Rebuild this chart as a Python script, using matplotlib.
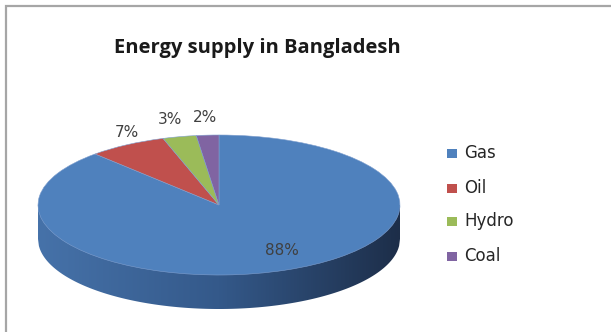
import numpy as np
import matplotlib
matplotlib.use('Agg')
from matplotlib import pyplot as plt
from matplotlib.colors import LinearSegmentedColormap
from matplotlib.patches import Rectangle

labels = ['Gas', 'Oil', 'Hydro', 'Coal']
values = [88, 7, 3, 2]
colors = ['#4F81BD', '#C0504D', '#9BBB59', '#8064A2']
title = 'Energy supply in Bangladesh'

plt.rcParams['font.family'] = ['DejaVu Sans']

fig = plt.figure(figsize=(6.11, 3.32), dpi=100)
W, H = 611, 332

# pie axes: 181 px per unit in x, 70 px per unit in y, centre at (219, 205)
cx, cy, a, b = 219, 205, 181, 70
xl, yl_lo, yl_hi = 1.2, -1.7, 1.5
ax = fig.add_axes([(cx - xl * a) / W, (H - (cy - yl_lo * b)) / H,
                   2 * xl * a / W, (yl_hi - yl_lo) * b / H])

depth = 34 / b

# side of the cylinder with a left-to-right shading
xs = np.linspace(-1, 1, 400)
side = ax.fill_between(xs, 0, -np.sqrt(1 - xs ** 2) - depth, color='none', lw=0)
cmap = LinearSegmentedColormap.from_list('side', ['#4672A9', '#34598A', '#1D2E49'])
grad = ax.imshow(np.linspace(0, 1, 256).reshape(1, -1), cmap=cmap, aspect='auto',
                 extent=(-1, 1, -1 - depth, 0), zorder=1)
grad.set_clip_path(side.get_paths()[0], transform=ax.transData)

wedges, texts, autotexts = ax.pie(values, colors=colors, startangle=90, counterclock=False,
                                  autopct='%.0f%%', pctdistance=0.76,
                                  wedgeprops=dict(linewidth=0.4, edgecolor='#7F9FCF'),
                                  textprops=dict(fontsize=11, color='#404040'))
for w in wedges:
    w.set_zorder(2)
gx, gy = autotexts[0].get_position()
autotexts[0].set_position((gx + 0.07, gy + 0.06))
for w, t in zip(wedges[1:], autotexts[1:]):
    mid = np.deg2rad((w.theta1 + w.theta2) / 2)
    big = w.theta2 - w.theta1 > 20
    r = 1.2 if big else 1.25
    t.set_position((r * np.cos(mid) + 0.1 * big, r * np.sin(mid)))
for t in autotexts:
    t.set_zorder(3)

ax.set_aspect('auto')
ax.set_xlim(-xl, xl)
ax.set_ylim(yl_lo, yl_hi)
ax.axis('off')

fig.text(257 / W, 1 - 48 / H, title, ha='center', va='center', fontsize=14.5,
         fontweight='bold', color='#1a1a1a', family='Open Sans')

# legend
ys = [153, 188, 221, 256]
for lab, col, y in zip(labels, colors, ys):
    fig.patches.append(Rectangle((447 / W, 1 - (y + 4.5) / H), 10 / W, 9 / H,
                                 transform=fig.transFigure, facecolor=col, edgecolor='none'))
    fig.text(464 / W, 1 - y / H, lab, ha='left', va='center', fontsize=12, color='#262626')

# chart border (only top and left visible)
fig.patches.append(Rectangle((6 / W, -0.1), 1.2, 1 - 6 / H + 0.1, transform=fig.transFigure,
                             fill=False, edgecolor='#A6A6A6', linewidth=1.6))

fig.savefig('out.png', dpi=100)
